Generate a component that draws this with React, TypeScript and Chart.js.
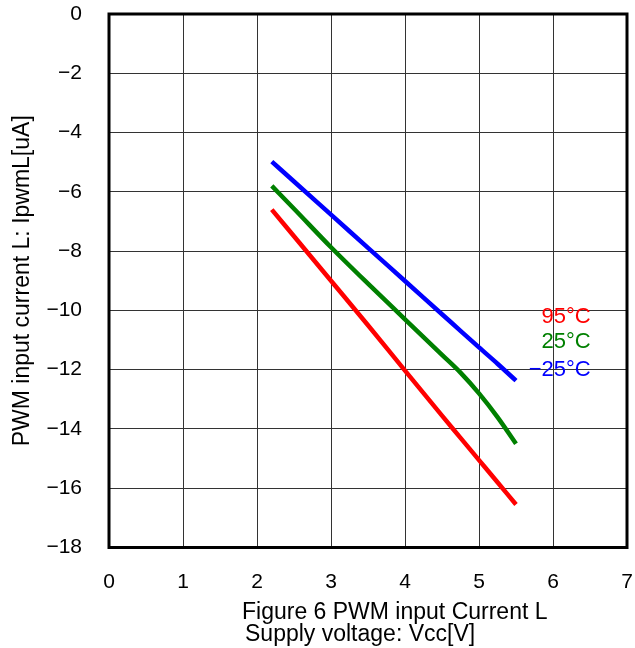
import React, { useEffect, useRef } from "react";
import { Chart, registerables } from "chart.js";

Chart.register(...registerables);

const voltages = [2.2, 2.5, 3, 3.5, 4, 4.5, 4.75, 5, 5.25, 5.5];
const current95 = [-6.6, -7.5, -9.0, -10.5, -12.03, -13.55, -14.3, -15.05, -15.8, -16.55];
const current25 = [-5.8, -6.57, -7.87, -9.1, -10.3, -11.5, -12.1, -12.8, -13.6, -14.5];
const currentM25 = [-4.98, -5.65, -6.77, -7.89, -9.01, -10.13, -10.69, -11.25, -11.8, -12.37];

const seriesNames = ["95°C", "25°C", "−25°C"];
const seriesColors = ["#ff0000", "#008000", "#0000ff"];
const labelX = [6.51, 6.51, 6.51];
const labelY = [-10.22, -11.07, -12.01];

const xTitleLine1 = "Figure 6 PWM input Current L";
const xTitleLine2 = "Supply voltage: Vcc[V]";
const yTitle = "PWM input current L: IpwmL[uA]";

const FONT = '"Liberation Sans", Arial, sans-serif';

export default function App() {
  const ref = useRef<HTMLCanvasElement | null>(null);

  useEffect(() => {
    document.body.style.margin = "0";
    const canvas = ref.current;
    if (!canvas) return;

    const series = [current95, current25, currentM25];

    const overlay = {
      id: "overlay",
      afterDraw(chart: any) {
        const ctx = chart.ctx;
        const a = chart.chartArea;
        const xs = chart.scales.x;
        const ys = chart.scales.y;
        ctx.save();
        ctx.strokeStyle = "#000";
        ctx.lineWidth = 3;
        ctx.strokeRect(a.left, a.top, a.right - a.left, a.bottom - a.top);
        ctx.font = `22px ${FONT}`;
        ctx.textAlign = "right";
        ctx.textBaseline = "middle";
        for (let i = 0; i < seriesNames.length; i++) {
          ctx.fillStyle = seriesColors[i];
          ctx.fillText(seriesNames[i], xs.getPixelForValue(labelX[i]), ys.getPixelForValue(labelY[i]));
        }
        ctx.fillStyle = "#000";
        ctx.font = `23px ${FONT}`;
        ctx.save();
        ctx.translate(23, (a.top + a.bottom) / 2);
        ctx.rotate(-Math.PI / 2);
        ctx.textAlign = "center";
        ctx.textBaseline = "middle";
        ctx.fillText(yTitle, 0, 0);
        ctx.restore();
        ctx.textAlign = "left";
        ctx.textBaseline = "alphabetic";
        ctx.fillText(xTitleLine1, a.left + 133, a.bottom + 71);
        ctx.fillText(xTitleLine2, a.left + 136, a.bottom + 93);
        ctx.restore();
      },
    };

    const zeroPad = (scale: any) => {
      scale.paddingTop = 0;
      scale.paddingBottom = 0;
      scale.paddingLeft = 0;
      scale.paddingRight = 0;
    };

    const chart = new Chart(canvas, {
      type: "line",
      data: {
        datasets: series.map((vals, i) => ({
          label: seriesNames[i],
          data: voltages.map((v, j) => ({ x: v, y: vals[j] })),
          borderColor: seriesColors[i],
          backgroundColor: seriesColors[i],
          borderWidth: 4.5,
          pointRadius: 0,
          cubicInterpolationMode: "monotone",
          fill: false,
        })),
      },
      options: {
        animation: false,
        responsive: true,
        maintainAspectRatio: false,
        layout: { padding: { top: 14, right: 8, left: 0, bottom: 0 } },
        plugins: {
          legend: { display: false },
          tooltip: { enabled: false },
          title: { display: false },
        },
        scales: {
          x: {
            type: "linear",
            min: 0,
            max: 7,
            afterFit(scale: any) {
              scale.height = 100.5;
              zeroPad(scale);
            },
            ticks: {
              stepSize: 1,
              color: "#000",
              font: { size: 21, family: FONT },
              padding: 22,
              maxRotation: 0,
            },
            grid: { color: "#333", lineWidth: 1, drawTicks: false },
            border: { display: false },
          },
          y: {
            type: "linear",
            min: -18,
            max: 0,
            afterFit(scale: any) {
              scale.width = 109;
              zeroPad(scale);
            },
            ticks: {
              stepSize: 2,
              color: "#000",
              font: { size: 21, family: FONT },
              padding: 27,
              callback: (v: any) => String(v).replace("-", "−"),
            },
            grid: { color: "#333", lineWidth: 1, drawTicks: false },
            border: { display: false },
          },
        },
      },
      plugins: [overlay],
    });

    return () => chart.destroy();
  }, []);

  return (
    <div style={{ position: "fixed", left: 0, top: 0, width: 635, height: 648, background: "#fff" }}>
      <canvas ref={ref} />
    </div>
  );
}
